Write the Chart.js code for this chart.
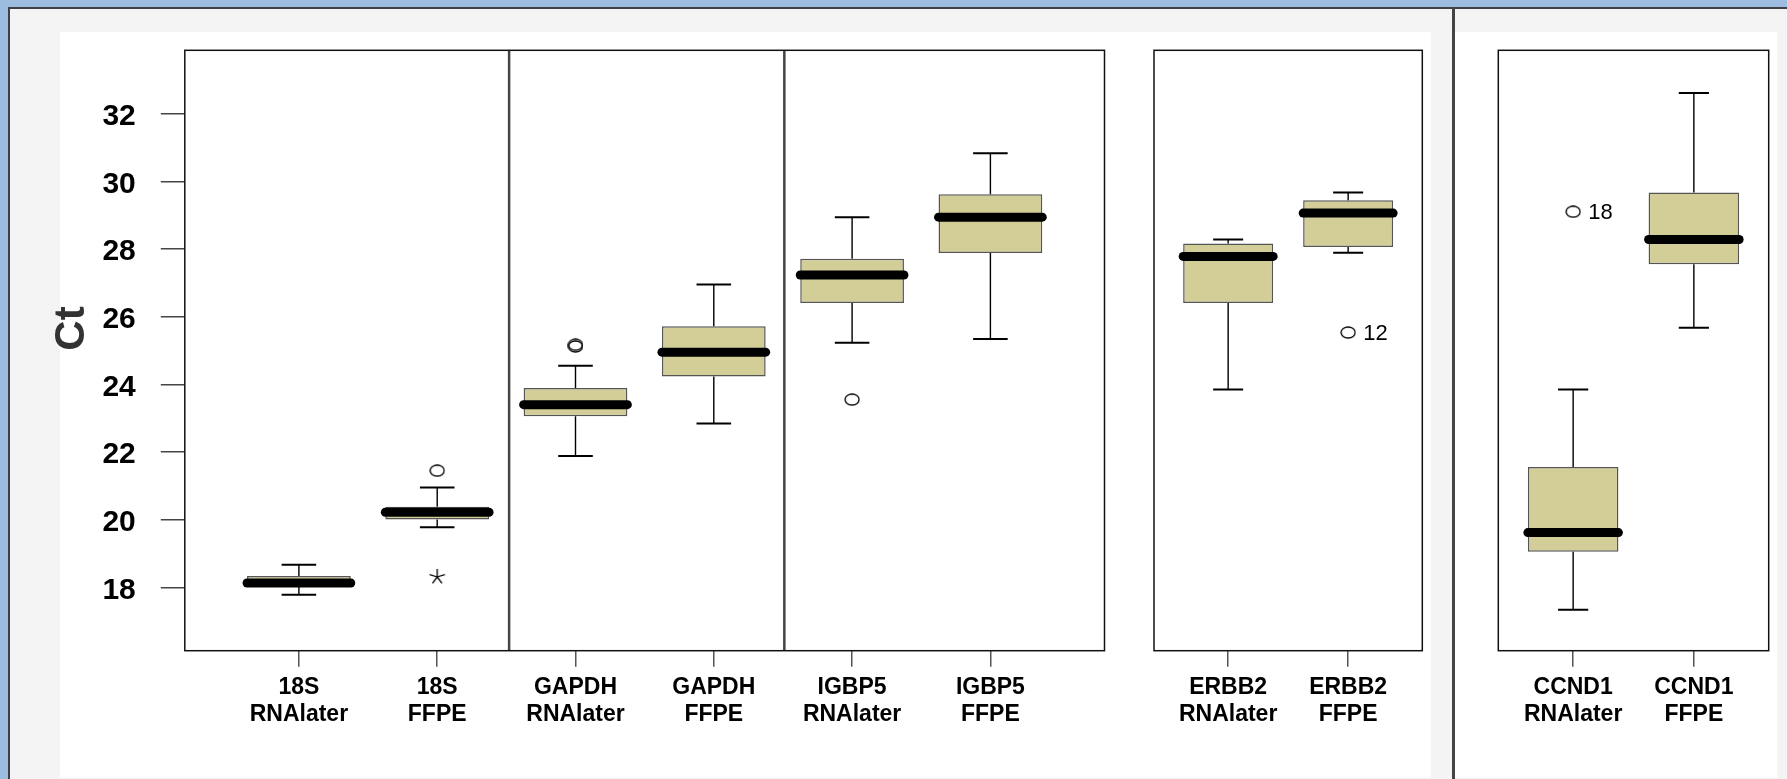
<!DOCTYPE html>
<html>
<head>
<meta charset="utf-8">
<title>Ct boxplots</title>
<script src="https://cdn.jsdelivr.net/npm/chart.js@4.4.0/dist/chart.umd.min.js"></script>
<style>
  html, body { margin: 0; padding: 0; }
  body { width: 1787px; height: 779px; background: #f4f4f4; position: relative; overflow: hidden; }
  .blk { position: absolute; }
  #topbar { left: 0; top: 0; width: 1787px; height: 7px; background: #9dbde0; }
  #topline { left: 8px; top: 7px; width: 1779px; height: 2px; background: #3c4148; }
  #leftbar { left: 0; top: 0; width: 8px; height: 779px; background: #9dbde0; }
  #leftline { left: 8px; top: 7px; width: 2px; height: 772px; background: #3c4148; }
  #white1 { left: 60px; top: 32px; width: 1371px; height: 746px; background: #fff; }
  #white2 { left: 1455px; top: 32px; width: 322px; height: 746px; background: #fff; }
  #divider { left: 1452px; top: 7px; width: 3px; height: 772px; background: #444; }
  canvas { position: absolute; top: 32px; }
</style>
</head>
<body>
<div class="blk" id="topbar"></div>
<div class="blk" id="leftbar"></div>
<div class="blk" id="topline"></div>
<div class="blk" id="leftline"></div>
<div class="blk" id="white1"></div>
<div class="blk" id="white2"></div>
<div class="blk" id="divider"></div>
<canvas id="panel0" width="1110" height="747" style="left:20px"></canvas>
<canvas id="panel1" width="300" height="747" style="left:1140px"></canvas>
<canvas id="panel2" width="300" height="747" style="left:1480px"></canvas>
<script>
const geneLabels = ["18S", "18S", "GAPDH", "GAPDH", "IGBP5", "IGBP5", "ERBB2", "ERBB2", "CCND1", "CCND1"];
const sampleLabels = ["RNAlater", "FFPE", "RNAlater", "FFPE", "RNAlater", "FFPE", "RNAlater", "FFPE", "RNAlater", "FFPE"];
const whiskerLow  = [17.78, 19.78, 21.88, 22.84, 25.23, 25.34, 23.85, 27.89, 17.34, 25.67];
const quartile1   = [18.06, 20.01, 23.06, 24.23, 26.40, 27.88, 26.40, 28.06, 19.05, 27.55];
const medians     = [18.13, 20.22, 23.40, 24.95, 27.23, 28.94, 27.78, 29.06, 19.62, 28.28];
const quartile3   = [18.34, 20.38, 23.89, 25.72, 27.71, 29.62, 28.16, 29.44, 21.56, 29.67];
const whiskerHigh = [18.67, 20.95, 24.55, 26.95, 28.94, 30.83, 28.28, 29.67, 23.85, 32.61];
const outlierIndex = [1, 2, 2, 4, 7, 8];
const outlierValues = [21.45, 25.12, 25.17, 23.55, 25.53, 29.10];
const outlierLabels = ["", "", "", "", "12", "18"];
const extremeIndex = [1];
const extremeValues = [18.31];
const panelGroups = [[0, 6], [6, 8], [8, 10]];
const groupDividers = [2.52, 4.51];
const yTicks = [18, 20, 22, 24, 26, 28, 30, 32];
const yMin = 16.13;
const yMax = 33.87;

const fontFamily = "'Liberation Sans', Arial, Helvetica, sans-serif";
const boxFill = "#d3ce98";

// layout of each panel canvas (chart area placement)
const panelLayout = [
  { pad: { top: 18.3, left: 0, right: 25.5 }, yWidth: 164.8, xPad: 0.825, showY: true },
  { pad: { top: 18.3, left: 14, right: 17.7 }, xPad: 0.618, showY: false },
  { pad: { top: 18.3, left: 18.3, right: 11.3 }, xPad: 0.62, showY: false }
];

function ellipseImage(w, h) {
  let c = document.createElement("canvas");
  c.width = w;
  c.height = h;
  let g = c.getContext("2d");
  g.strokeStyle = "#000";
  g.lineWidth = 1.3;
  g.beginPath();
  g.ellipse(w / 2, h / 2, w / 2 - 1, h / 2 - 1, 0, 0, Math.PI * 2);
  g.stroke();
  return c;
}

function starImage(size) {
  let c = document.createElement("canvas");
  c.width = size;
  c.height = size;
  let g = c.getContext("2d");
  g.strokeStyle = "#000";
  g.lineWidth = 1.3;
  let r = size / 2 - 1;
  g.beginPath();
  for (let k = 0; k < 5; k++) {
    let a = -Math.PI / 2 + k * 2 * Math.PI / 5;
    g.moveTo(size / 2, size / 2);
    g.lineTo(size / 2 + r * Math.cos(a), size / 2 + r * Math.sin(a));
  }
  g.stroke();
  return c;
}

const outlierPoint = ellipseImage(16, 13);
const extremePoint = starImage(18);

const boxWhiskers = {
  id: "boxWhiskers",
  afterDatasetsDraw(chart, args, opts) {
    let { ctx, scales } = chart;
    let x = scales.x, y = scales.y;
    let bars = chart.getDatasetMeta(0).data;
    ctx.save();
    ctx.strokeStyle = "#000";
    for (let i = opts.start; i < opts.end; i++) {
      let pos = i - opts.start + 1;
      let cx = x.getPixelForValue(pos);
      let half = bars[pos - 1].width / 2;
      let cap = (x.getPixelForValue(pos + 0.125) - cx);
      ctx.lineCap = "butt";
      ctx.lineWidth = 1.4;
      ctx.beginPath();
      ctx.moveTo(cx, y.getPixelForValue(quartile3[i]));
      ctx.lineTo(cx, y.getPixelForValue(whiskerHigh[i]));
      ctx.moveTo(cx, y.getPixelForValue(quartile1[i]));
      ctx.lineTo(cx, y.getPixelForValue(whiskerLow[i]));
      ctx.stroke();
      ctx.lineWidth = 2;
      ctx.beginPath();
      ctx.moveTo(cx - cap, y.getPixelForValue(whiskerHigh[i]));
      ctx.lineTo(cx + cap, y.getPixelForValue(whiskerHigh[i]));
      ctx.moveTo(cx - cap, y.getPixelForValue(whiskerLow[i]));
      ctx.lineTo(cx + cap, y.getPixelForValue(whiskerLow[i]));
      ctx.stroke();
      ctx.lineWidth = 9;
      ctx.lineCap = "round";
      ctx.beginPath();
      ctx.moveTo(cx - half, y.getPixelForValue(medians[i]));
      ctx.lineTo(cx + half, y.getPixelForValue(medians[i]));
      ctx.stroke();
    }
    // case numbers next to outliers
    ctx.fillStyle = "#000";
    ctx.font = "22px " + fontFamily;
    ctx.textAlign = "left";
    ctx.textBaseline = "middle";
    outlierIndex.forEach((k, j) => {
      if (k < opts.start || k >= opts.end || !outlierLabels[j]) return;
      let px = x.getPixelForValue(k - opts.start + 1);
      let py = y.getPixelForValue(outlierValues[j]);
      ctx.fillText(outlierLabels[j], px + 15, py + 1);
    });
    ctx.restore();
  },
  afterDraw(chart, args, opts) {
    let { ctx, chartArea, scales } = chart;
    ctx.save();
    if (opts.dividers) {
      ctx.strokeStyle = "#444";
      ctx.lineWidth = 2.5;
      ctx.beginPath();
      opts.dividers.forEach(d => {
        let px = scales.x.getPixelForValue(d);
        ctx.moveTo(px, chartArea.top);
        ctx.lineTo(px, chartArea.bottom);
      });
      ctx.stroke();
    }
    ctx.strokeStyle = "#111";
    ctx.lineWidth = 1.5;
    ctx.strokeRect(chartArea.left, chartArea.top, chartArea.right - chartArea.left, chartArea.bottom - chartArea.top);
    if (opts.title) {
      ctx.fillStyle = "#333";
      ctx.font = "bold 42px " + fontFamily;
      ctx.textAlign = "center";
      ctx.textBaseline = "middle";
      ctx.translate(52, 296.5);
      ctx.rotate(-Math.PI / 2);
      ctx.fillText(opts.title, 0, 0);
    }
    ctx.restore();
  }
};

function makePanel(p) {
  let [start, end] = panelGroups[p];
  let lay = panelLayout[p];
  let n = end - start;
  let positions = [];
  for (let i = 1; i <= n; i++) positions.push(i);

  let boxes = positions.map((pos, i) => ({ x: pos, y: [quartile1[start + i], quartile3[start + i]] }));
  let outs = [];
  outlierIndex.forEach((k, j) => {
    if (k >= start && k < end) outs.push({ x: k - start + 1, y: outlierValues[j] });
  });
  let extremes = [];
  extremeIndex.forEach((k, j) => {
    if (k >= start && k < end) extremes.push({ x: k - start + 1, y: extremeValues[j] });
  });

  let config = {
    type: "bar",
    data: {
      datasets: [
        {
          type: "bar",
          data: boxes,
          backgroundColor: boxFill,
          borderColor: "#555",
          borderWidth: 1.5,
          borderSkipped: false,
          barPercentage: 0.75,
          categoryPercentage: 1.0
        },
        {
          type: "scatter",
          data: outs,
          pointStyle: outlierPoint,
          pointRadius: 7
        },
        {
          type: "scatter",
          data: extremes,
          pointStyle: extremePoint,
          pointRadius: 9
        }
      ]
    },
    options: {
      responsive: false,
      animation: false,
      events: [],
      layout: { padding: { top: lay.pad.top, left: lay.pad.left, right: lay.pad.right, bottom: 0 } },
      plugins: {
        legend: { display: false },
        tooltip: { enabled: false },
        boxWhiskers: {
          start: start,
          end: end,
          dividers: p === 0 ? groupDividers : null,
          title: lay.showY ? "Ct" : null
        }
      },
      scales: {
        x: {
          type: "linear",
          min: 1 - lay.xPad,
          max: n + lay.xPad,
          offset: false,
          bounds: "data",
          afterBuildTicks: s => { s.ticks = positions.map(v => ({ value: v })); },
          afterFit: s => {
            s.height = 128.3;
            s.paddingLeft = 0;
            s.paddingRight = 0;
          },
          grid: { drawOnChartArea: false, offset: false, tickLength: 16, color: "#555", lineWidth: 1.5 },
          border: { display: false },
          ticks: {
            autoSkip: false,
            maxRotation: 0,
            padding: 7,
            color: "#000",
            font: { family: fontFamily, size: 23, weight: "bold", lineHeight: 1.2 },
            callback: (v, i) => [geneLabels[start + i], sampleLabels[start + i]]
          }
        },
        y: {
          type: "linear",
          display: lay.showY,
          min: yMin,
          max: yMax,
          bounds: "data",
          afterBuildTicks: s => { s.ticks = yTicks.map(v => ({ value: v })); },
          afterFit: s => {
            if (lay.yWidth) s.width = lay.yWidth;
            s.paddingTop = 0;
            s.paddingBottom = 0;
          },
          grid: { drawOnChartArea: false, tickLength: 24, color: "#444", lineWidth: 1.5 },
          border: { display: false },
          ticks: {
            padding: 25,
            labelOffset: 3,
            color: "#000",
            font: { family: fontFamily, size: 30, weight: "bold" }
          }
        }
      }
    },
    plugins: [boxWhiskers]
  };
  return new Chart(document.querySelector("#panel" + p), config);
}

panelGroups.forEach((g, p) => makePanel(p));
</script>
</body>
</html>
